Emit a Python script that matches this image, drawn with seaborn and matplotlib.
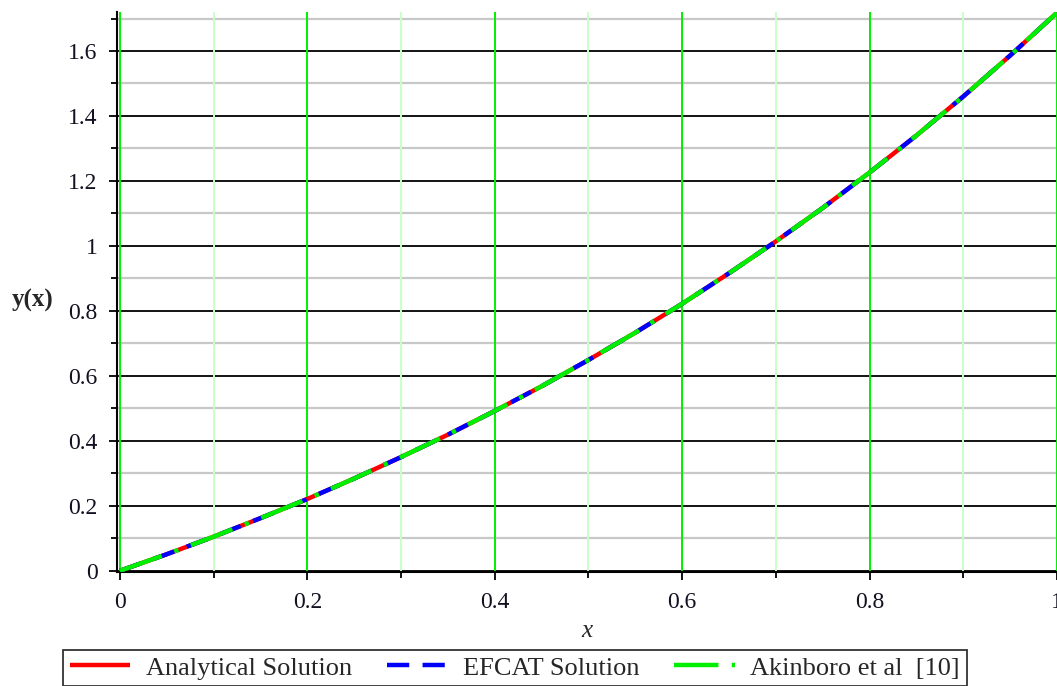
import numpy as np
import pandas as pd
import matplotlib
matplotlib.use("Agg")
import matplotlib.pyplot as plt
import seaborn as sns
from matplotlib.ticker import MultipleLocator, FuncFormatter

# Sampled solution values y(x) on [0, 1]
x_vals = [0.00, 0.05, 0.10, 0.15, 0.20, 0.25, 0.30, 0.35, 0.40, 0.45, 0.50,
          0.55, 0.60, 0.65, 0.70, 0.75, 0.80, 0.85, 0.90, 0.95, 1.00]
analytical = [0.000, 0.051, 0.105, 0.162, 0.221, 0.284, 0.350, 0.419, 0.492,
              0.568, 0.649, 0.733, 0.822, 0.916, 1.014, 1.117, 1.226, 1.340,
              1.460, 1.586, 1.718]
efcat = [0.000, 0.051, 0.105, 0.162, 0.221, 0.284, 0.350, 0.419, 0.492,
         0.568, 0.649, 0.733, 0.822, 0.916, 1.014, 1.117, 1.226, 1.340,
         1.460, 1.586, 1.718]
akinboro = [0.000, 0.051, 0.105, 0.162, 0.221, 0.284, 0.350, 0.419, 0.492,
            0.568, 0.649, 0.733, 0.822, 0.916, 1.014, 1.117, 1.226, 1.340,
            1.460, 1.586, 1.718]

series_names = ["Analytical Solution", "EFCAT Solution", "Akinboro et al  [10]"]
x_ticks = [0, 0.2, 0.4, 0.6, 0.8, 1]
y_ticks = [0, 0.2, 0.4, 0.6, 0.8, 1, 1.2, 1.4, 1.6]

sns.set_style("white")
plt.rcParams["font.family"] = ["Liberation Serif", "DejaVu Serif"]

fig = plt.figure(figsize=(10.57, 6.86), dpi=100)
ax = fig.add_axes([0.1107, 0.166, 0.8893, 0.8165])

# grid: black/grey horizontals, green verticals
for yv in np.arange(0.1, 1.75, 0.2):
    ax.axhline(yv, color="#c8c8c8", lw=1.6, zorder=0)
for yv in y_ticks:
    ax.axhline(yv, color="black", lw=1.3, zorder=0)
for xv in [0.1, 0.3, 0.5, 0.7, 0.9]:
    ax.axvline(xv, color="#c8ffc8", lw=1.4, zorder=0)
for xv in x_ticks:
    ax.axvline(xv, color="#00f000", lw=1.4, zorder=0)

lw = 3.2
sns.lineplot(x=x_vals, y=analytical, ax=ax, color="#ff0000", lw=lw,
             label=series_names[0], zorder=3)
sns.lineplot(x=x_vals, y=efcat, ax=ax, color="#0000ff", lw=lw,
             label=series_names[1], zorder=4)
sns.lineplot(x=x_vals, y=akinboro, ax=ax, color="#00ee00", lw=lw,
             label=series_names[2], zorder=5)
lines = ax.get_lines()[-3:]
lines[1].set_dashes([5, 3])
lines[2].set_dashes([10, 3, 1, 3])
for ln in lines:
    ln.set_solid_capstyle("butt")
    ln.set_dash_capstyle("butt")

ax.set_xlim(-0.003, 1.0)
ax.set_ylim(-0.004, 1.72)

ax.xaxis.set_major_locator(MultipleLocator(0.2))
ax.xaxis.set_minor_locator(MultipleLocator(0.1))
ax.yaxis.set_major_locator(MultipleLocator(0.2))
ax.yaxis.set_minor_locator(MultipleLocator(0.1))
fmt = FuncFormatter(lambda v, p: ("%g" % round(v, 3)))
ax.xaxis.set_major_formatter(fmt)
ax.yaxis.set_major_formatter(fmt)

for s in ["top", "right"]:
    ax.spines[s].set_visible(False)
for s in ["left", "bottom"]:
    ax.spines[s].set_color("black")
    ax.spines[s].set_linewidth(1.5)

ax.tick_params(axis="both", which="major", length=6, width=1.3, color="black",
               labelsize=17, labelcolor="#111122", pad=8)
ax.tick_params(axis="both", which="minor", length=4, width=1.3, color="black")
ax.tick_params(axis="x", which="both", bottom=True, direction="out")
ax.tick_params(axis="y", which="both", left=True, direction="out")

ax.set_xlabel("x", fontsize=18, style="italic", labelpad=5)
ax.set_ylabel("y(x)", fontsize=18, fontweight="bold", rotation=0, labelpad=0)
ax.yaxis.set_label_coords(-0.09, 0.465)

ax.legend_.remove()
handles = lines
leg = fig.legend(handles, series_names, loc="upper left",
                 bbox_to_anchor=(0.0596, 0.053), ncol=3, fontsize=19,
                 frameon=True, fancybox=False, edgecolor="black",
                 handlelength=2.3, handletextpad=0.6, columnspacing=1.3,
                 borderpad=0.25, borderaxespad=0)
leg.get_frame().set_linewidth(1.3)

fig.savefig("out.png", dpi=100)
